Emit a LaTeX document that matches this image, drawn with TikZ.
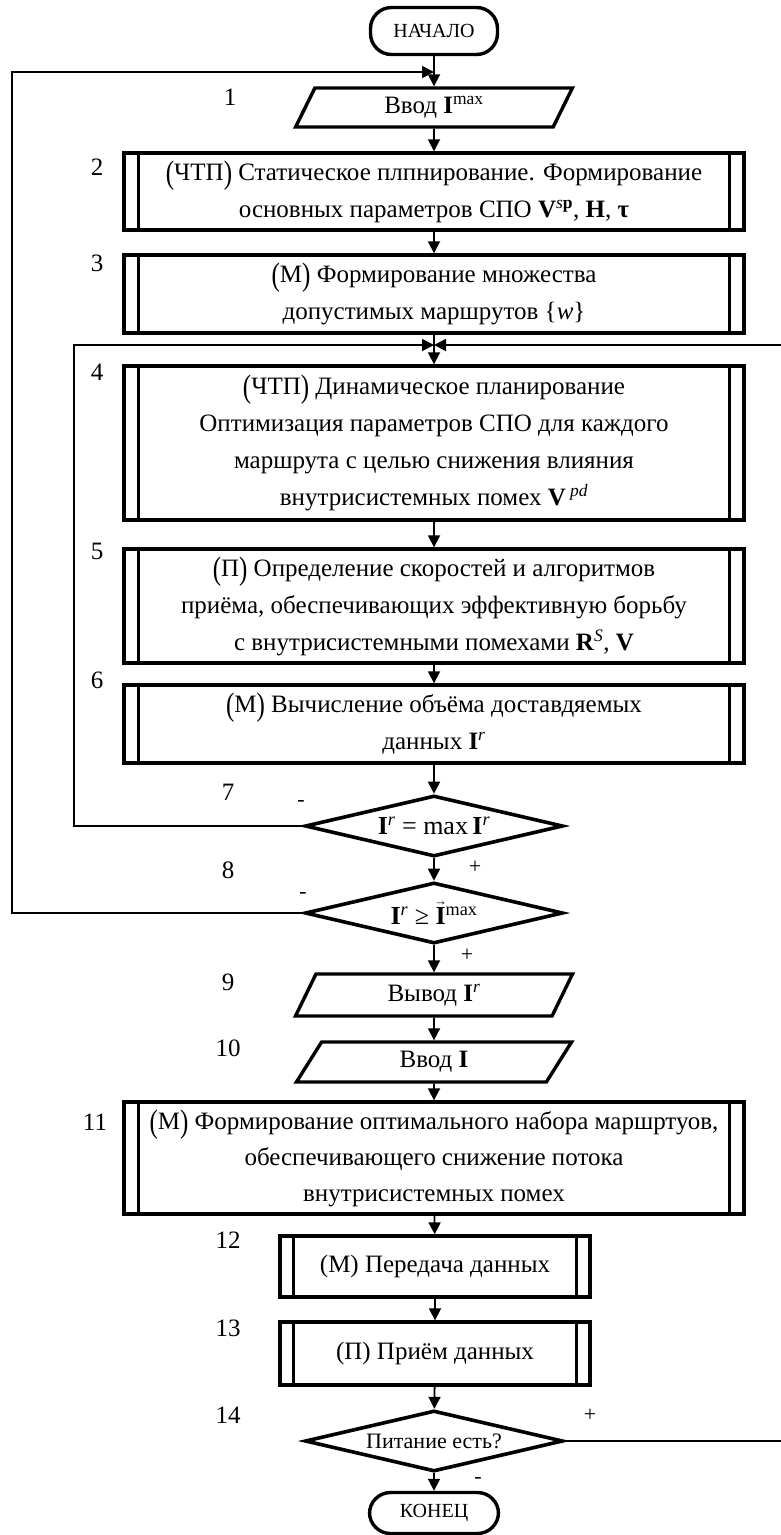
\documentclass[tikz,border=0pt]{standalone}
\usepackage{fontspec}
\setmainfont{Liberation Serif}
\usepackage{graphicx}
\usetikzlibrary{arrows.meta,shapes.geometric}
\newcommand{\bpar}[1]{\raisebox{-0.12em}{\scalebox{1}[1.3]{(}}#1\raisebox{-0.12em}{\scalebox{1}[1.3]{)}}}
\newcommand{\sups}[1]{\textsuperscript{#1}}
\newcommand{\vecI}{\textbf{I}\llap{\makebox[0.39em]{\raisebox{0.74em}{\fontsize{13}{13}\selectfont →}}}}
\newcommand{\innerl}[2]{%
  \draw[innerline] ([xshift=#2]#1.north west) -- ([xshift=#2]#1.south west);
  \draw[innerline] ([xshift=-#2]#1.north east) -- ([xshift=-#2]#1.south east);}
\tikzset{
  every node/.style={inner sep=0pt},
  proc/.style={draw, line width=3.4pt, rectangle, minimum width=620, align=center,
     font=\fontsize{25}{37}\selectfont},
  sproc/.style={draw, line width=3.4pt, rectangle, minimum width=310, align=center,
     font=\fontsize{25}{30}\selectfont},
  innerline/.style={line width=3pt},
  io/.style={draw, line width=3.4pt, trapezium, trapezium left angle=70, trapezium right angle=110,
     trapezium stretches=true, minimum width=277, font=\fontsize{25}{30}\selectfont},
  dec/.style={draw, line width=3.6pt, diamond, shape aspect=4.2, minimum width=258, minimum height=61,
     font=\fontsize{26}{30}\selectfont},
  term/.style={draw, line width=3.4pt, rectangle, rounded corners=21pt, font=\fontsize{20}{24}\selectfont},
  num/.style={font=\fontsize{25}{30}\selectfont},
  sgn/.style={font=\fontsize{22}{26}\selectfont},
  arr/.style={line width=1.8pt, -{Triangle[length=12pt,width=12pt]}},
  ln/.style={line width=1.8pt}
}
\begin{document}
\begin{tikzpicture}[x=1pt,y=-1pt]
\useasboundingbox (0,0) rectangle (781,1535);

% shapes
\node[term, minimum width=127, minimum height=47] (st) at (434,31) {НАЧАЛО};
\node[io, minimum height=39] (p1) at (434,107.5) {Ввод \textbf{I}\sups{max}};
\node[proc, minimum height=77] (b2) at (434,191.5) {\bpar{ЧТП} Статическое плпнирование. Формирование\\основных параметров СПО \textbf{V}\sups{\textit{s}\textbf{p}}, \textbf{H}, \textbf{τ}};
\node[proc, minimum height=78] (b3) at (434,294) {\bpar{М} Формирование множества\\допустимых маршрутов \{\textit{w}\}};
\node[proc, minimum height=154] (b4) at (434,443) {\bpar{ЧТП} Динамическое планирование\\Оптимизация параметров СПО для каждого\\маршрута с целью снижения влияния\\внутрисистемных помех \textbf{V}\,\sups{\textit{pd}}};
\node[proc, minimum height=114] (b5) at (434,606) {\bpar{П} Определение скоростей и алгоритмов\\приёма, обеспечивающих эффективную борьбу\\с внутрисистемными помехами \textbf{R}\sups{\textit{S}}, \textbf{V}};
\node[proc, minimum height=78] (b6) at (434,724) {\bpar{М} Вычисление объёма доставдяемых\\данных \textbf{I}\sups{\textit{r}}};
\node[dec] (d7) at (434,826) {\textbf{I}\sups{\textit{r}} = max\,\textbf{I}\sups{\textit{r}}};
\node[dec] (d8) at (434,913) {\textbf{I}\sups{\textit{r}} ≥ \vecI\sups{max}};
\node[io, minimum height=42] (p9) at (434,995) {Вывод \textbf{I}\sups{\textit{r}}};
\node[io, minimum height=40] (p10) at (434,1062) {Ввод \textbf{I}};
\node[proc, minimum height=112, font=\fontsize{25}{36}\selectfont] (b11) at (434,1158) {\bpar{М} Формирование оптимального набора маршртуов,\\обеспечивающего снижение потока\\внутрисистемных помех};
\node[sproc, minimum height=61] (b12) at (435,1266.5) {(М) Передача данных};
\node[sproc, minimum height=63] (b13) at (435,1353.5) {(П) Приём данных};
\node[dec, font=\fontsize{22}{26}\selectfont] (d14) at (434,1441) {Питание есть?};
\node[term, minimum width=129, minimum height=41] (en) at (434,1513) {КОНЕЦ};

\innerl{b2}{16}
\innerl{b3}{16}
\innerl{b4}{16}
\innerl{b5}{16}
\innerl{b6}{16}
\innerl{b11}{16}
\innerl{b12}{15}
\innerl{b13}{15}

% numbers
\node[num] (n1) at (230,97) {1};
\node[num] (n2) at (97,167) {2};
\node[num] (n3) at (97,263) {3};
\node[num] (n4) at (97,372) {4};
\node[num] (n5) at (97,551) {5};
\node[num] (n6) at (97,680) {6};
\node[num] (n7) at (228,792) {7};
\node[num] (n8) at (228,870) {8};
\node[num] (n9) at (228,982) {9};
\node[num] (n10) at (228,1048) {10};
\node[num] (n11) at (95,1122) {11};
\node[num] (n12) at (228,1240) {12};
\node[num] (n13) at (228,1328) {13};
\node[num] (n14) at (228,1415) {14};

% signs
\node[sgn] (s7m) at (301,803) {-};
\node[sgn] (s7p) at (475,867) {+};
\node[sgn] (s8m) at (303,895) {-};
\node[sgn] (s8p) at (467,955) {+};
\node[sgn] (s14p) at (590,1415) {+};
\node[sgn] (s14m) at (478,1480) {-};

% junction coordinates
\coordinate (j1) at (434,72);
\coordinate (o8) at (12,72);
\coordinate (j4) at (434,345);
\coordinate (o7) at (74,345);
\coordinate (r1) at (800,1441);
\coordinate (r2) at (800,345);

% connectors
\draw[arr] (st) -- (p1);
\draw[arr] (p1) -- (b2);
\draw[arr] (b2) -- (b3);
\draw[arr] (b3) -- (b4);
\draw[arr] (b4) -- (b5);
\draw[arr] (b5) -- (b6);
\draw[arr] (b6) -- (d7);
\draw[arr] (d7) -- (d8);
\draw[arr] (d8) -- (p9);
\draw[arr] (p9) -- (p10);
\draw[arr] (p10) -- (b11);
\draw[arr] (b11) -- (b12);
\draw[arr] (b12) -- (b13);
\draw[arr] (b13) -- (d14);
\draw[arr] (d14) -- (en);
\draw[arr] (d7.west) -| (o7) -- (j4);
\draw[arr] (d8.west) -| (o8) -- (j1);
\draw[arr] (d14.east) -- (r1) -- (r2) -- (j4);
\end{tikzpicture}
\end{document}
